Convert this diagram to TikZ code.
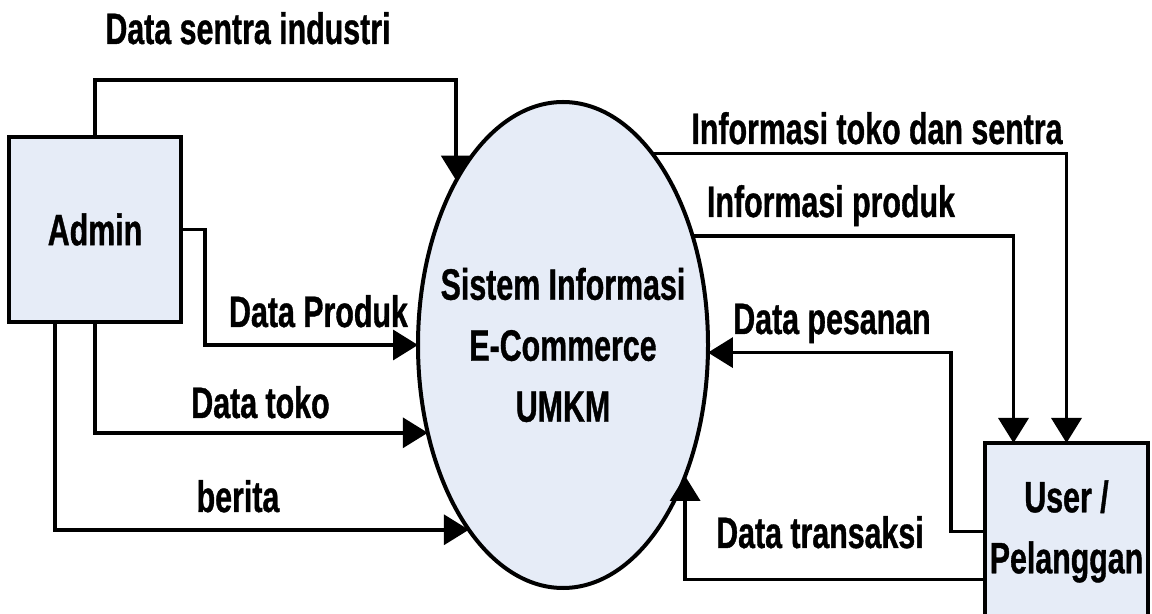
\documentclass[tikz,border=0pt]{standalone}
\usepackage{fontspec}
\setmainfont{Liberation Sans}[FakeStretch=0.69,FakeBold=0.8]
\usetikzlibrary{arrows.meta,shapes.geometric}
\definecolor{procfill}{HTML}{E6ECF7}

\begin{document}
\begin{tikzpicture}[x=0.5pt,y=-0.5pt,
		font=\fontsize{22}{30.5}\selectfont\bfseries,
		flow/.style={line width=1.75pt,-{Triangle[length=12.5pt,width=15pt]}},
		ent/.style={draw,line width=2pt,fill=procfill,inner sep=0pt,outer sep=0pt,align=center},
		lbl/.style={anchor=base,inner sep=0pt}]
		\useasboundingbox (0,0) rectangle (1152,614);
		\clip (0,0) rectangle (1152,614);
		\node[ent,minimum width=86pt,minimum height=92.5pt] (admin) at (95,229.5) {Admin};
		\node[ent,ellipse,minimum width=145pt,minimum height=243pt] (sis) at (563,345) {};
		\node[align=center,inner sep=0pt] (sistxt) at (sis.center) {Sistem Informasi\\E-Commerce\\UMKM};
		\node[ent,minimum width=81.5pt,minimum height=88.5pt] (user) at (1066.5,531.5) {User /\\Pelanggan};
		% admin -> sistem
		\draw[flow] (admin.north) -- ++(0,-57) -| (sis.123.2);
		\draw[flow] (admin.east) -- ++(24,0) |- (sis.west);
		\draw[flow] (admin.south) |- (sis.213.7);
		\draw[flow] ([xshift=-20pt]admin.south) |- (sis.243.6);
		% sistem -> user
		\draw[flow] (sis.65.1) -| (user.north);
		\draw[flow] (sis.40.2) -| ([xshift=-26.5pt]user.north);
		% user -> sistem
		\draw[flow] (user.west) -- ++(-34,0) |- (sis.357.6);
		\draw[flow] ([yshift=-24pt]user.west) -| (sis.313);
		\node[lbl] (lsentra) at (248,44) {Data sentra industri};
		\node[lbl] (lproduk) at (318.5,327) {Data Produk};
		\node[lbl] (ltoko) at (260.5,418) {Data toko};
		\node[lbl] (lberita) at (238,512) {berita};
		\node[lbl] (linfotoko) at (877,144) {Informasi toko dan sentra};
		\node[lbl] (linfoprod) at (831,217) {Informasi produk};
		\node[lbl] (lpesanan) at (832,334) {Data pesanan};
		\node[lbl] (ltransaksi) at (820,548) {Data transaksi};
\end{tikzpicture}
\end{document}
